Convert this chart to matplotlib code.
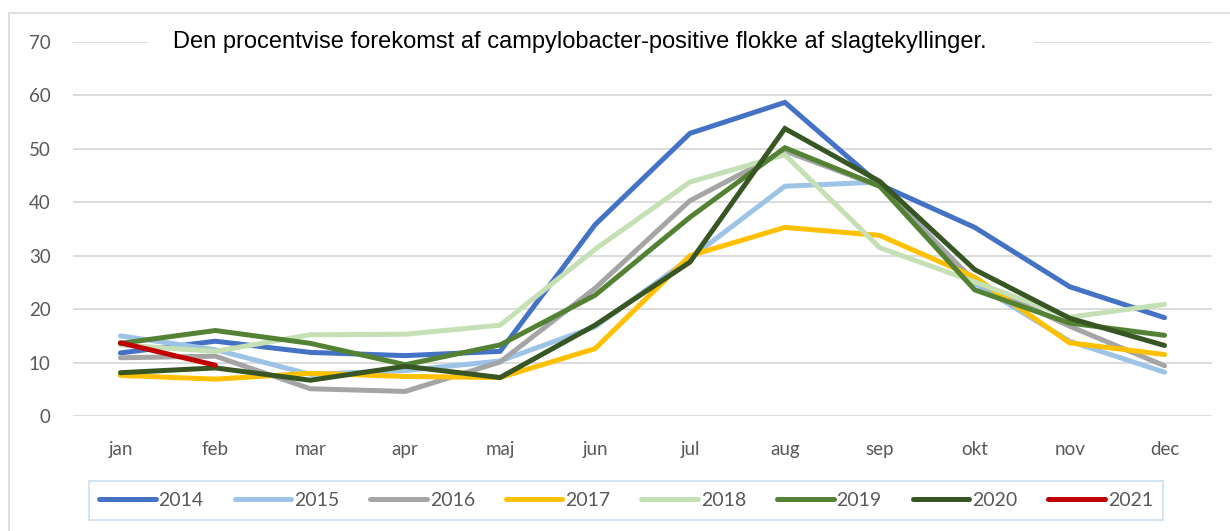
import numpy as np
import matplotlib.pyplot as plt
from matplotlib.patches import Rectangle

# ---------------------------------------------
# Campylobacter-positive flokke per maaned
# ---------------------------------------------

months = ["jan", "feb", "mar", "apr", "maj", "jun",
          "jul", "aug", "sep", "okt", "nov", "dec"]

y2014 = [11.8, 14.0, 11.9, 11.3, 12.1, 35.8, 52.9, 58.7, 43.3, 35.3, 24.2, 18.4]
y2015 = [15.0, 12.4, 7.8, 8.5, 10.3, 16.7, 29.5, 43.0, 43.8, 24.8, 14.0, 8.2]
y2016 = [10.9, 11.2, 5.1, 4.6, 10.1, 23.9, 40.3, 49.6, 43.0, 25.2, 16.8, 9.4]
y2017 = [7.6, 6.9, 8.0, 7.4, 7.2, 12.6, 30.0, 35.3, 33.8, 26.0, 13.7, 11.5]
y2018 = [13.3, 12.1, 15.2, 15.3, 17.0, 31.2, 43.8, 48.9, 31.5, 25.1, 18.5, 20.9]
y2019 = [13.6, 16.0, 13.6, 9.6, 13.3, 22.6, 37.2, 50.2, 43.0, 23.6, 17.4, 15.1]
y2020 = [8.1, 9.0, 6.7, 9.3, 7.2, 17.0, 28.8, 53.8, 43.9, 27.4, 18.3, 13.2]
y2021 = [13.7, 9.5]

years = ["2014", "2015", "2016", "2017", "2018", "2019", "2020", "2021"]
series = [y2014, y2015, y2016, y2017, y2018, y2019, y2020, y2021]
colors = ["#4472C4", "#9DC3E6", "#A5A5A5", "#FFC000",
          "#C5E0B4", "#548235", "#375623", "#C00000"]

title = "Den procentvise forekomst af campylobacter-positive flokke af slagtekyllinger."

plt.rcParams['font.family'] = ['Lato', 'DejaVu Sans']

fig = plt.figure(figsize=(12.3, 5.31), dpi=100)
ax = fig.add_axes([73 / 1230, 115 / 531, 1139 / 1230, 374 / 531])

# outer chart border (runs off the right and bottom edge)
fig.patches.append(Rectangle((9 / 1230, -5 / 531), 1240 / 1230, 523 / 531,
                             transform=fig.transFigure, fill=False,
                             edgecolor="#D9D9D9", linewidth=1.2))

x = np.arange(len(months))
for yr, vals, c in zip(years, series, colors):
    ax.plot(x[:len(vals)], vals, color=c, linewidth=3.6,
            solid_capstyle="round", solid_joinstyle="miter", label=yr)

ax.set_xlim(-0.5, 11.5)
ax.set_ylim(0, 70)
ax.set_yticks(np.arange(0, 71, 10))
ax.set_xticks(x)
ax.set_xticklabels(months)
ax.grid(axis="y", color="#D9D9D9", linewidth=1.3)
ax.set_axisbelow(True)
for s in ax.spines.values():
    s.set_visible(False)
ax.tick_params(length=0, labelsize=13.5, labelcolor="#595959")
ax.tick_params(axis="y", pad=16)
ax.tick_params(axis="x", pad=18)

# white box over the 70 gridline, then the title on it
ax.add_patch(Rectangle((148 / 1230, 478 / 531), 886 / 1230, 22 / 531,
                       transform=fig.transFigure, facecolor="white",
                       edgecolor="none", zorder=1.5, clip_on=False))
fig.text(580 / 1230, 489 / 531, title, ha="center", va="center",
         fontsize=17, family=["Liberation Sans", "DejaVu Sans"], color="black")

leg = fig.legend(loc="center", bbox_to_anchor=(626 / 1230, 30.5 / 531), ncol=8,
                 fontsize=14, frameon=True, fancybox=False,
                 edgecolor="#BDD7EE", handlelength=2.9, handletextpad=0.15,
                 columnspacing=1.6, borderpad=0.55)
for t in leg.get_texts():
    t.set_color("#595959")
leg.get_frame().set_linewidth(1.2)

plt.savefig("out.png", dpi=100)
